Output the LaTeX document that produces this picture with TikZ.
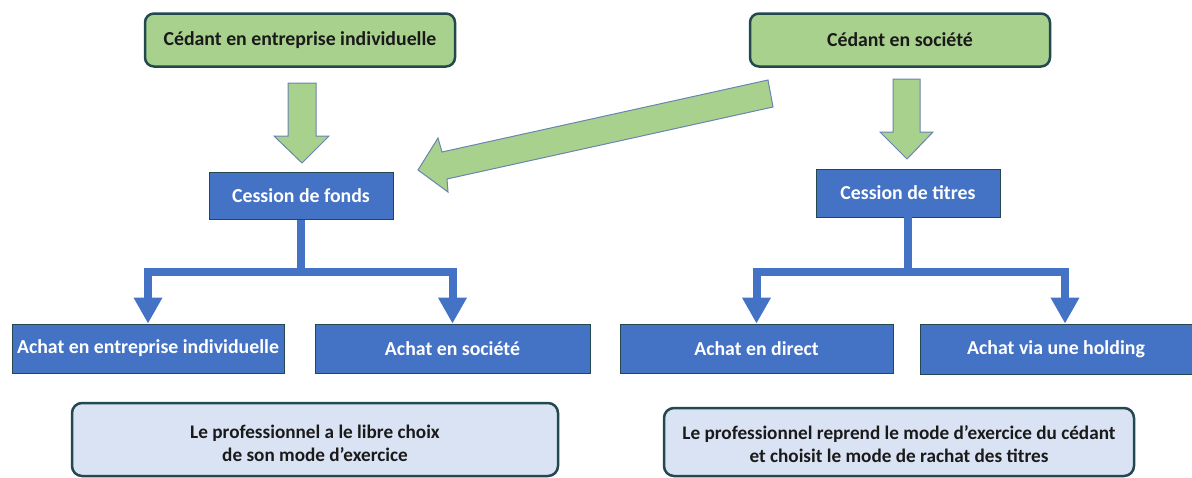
\documentclass[tikz,border=0pt]{standalone}
\usepackage{fontspec}
\setmainfont{Carlito}
\usetikzlibrary{arrows.meta,calc}
\definecolor{gfill}{HTML}{A9D18E}
\definecolor{dteal}{HTML}{23494F}
\definecolor{aborder}{HTML}{6A84B0}
\definecolor{bfill}{HTML}{4472C4}
\definecolor{lfill}{HTML}{DAE3F3}
\definecolor{txt}{HTML}{1A1A1A}
\tikzset{
  greenbox/.style={draw=dteal, line width=2.5pt, fill=gfill, rounded corners=9pt, inner sep=0pt,
    text=txt, font=\fontsize{19.8}{22}\selectfont\bfseries, minimum height=53pt},
  bluebox/.style={draw=dteal, line width=0.8pt, fill=bfill, inner sep=0pt,
    text=white, font=\fontsize{19.8}{22}\selectfont\bfseries},
  notebox/.style={draw=dteal, line width=2.5pt, fill=lfill, rounded corners=10pt, inner sep=0pt,
    text=txt, font=\fontsize{19.2}{23.5}\selectfont\bfseries, align=center},
  blockarrow/.style={draw=aborder, line width=1pt, fill=gfill, line join=miter},
  tree/.style={draw=bfill, line width=8pt, -{Triangle[width=27pt,length=26pt]}}
}
\begin{document}
\begin{tikzpicture}[x=1pt,y=-1pt]
\useasboundingbox (0,0) rectangle (1192,477);
% top green boxes
\node[greenbox, minimum width=310pt] (g1) at (300,40) {Cédant en entreprise individuelle};
\node[greenbox, minimum width=300pt] (g2) at (900,40) {Cédant en société};
% blue middle boxes
\node[bluebox, minimum width=184pt, minimum height=47pt] (cf) at (301,196) {Cession de fonds};
\node[bluebox, minimum width=184pt, minimum height=48pt] (ct) at (908,193) {Cession de titres};
% bottom blue boxes
\node[bluebox, minimum width=272pt, minimum height=49pt] (a1) at (148,348.5) {Achat en entreprise individuelle};
\node[bluebox, minimum width=275pt, minimum height=49pt] (a2) at (452.5,348.5) {Achat en société};
\node[bluebox, minimum width=273pt, minimum height=49pt] (a3) at (756.5,348.5) {Achat en direct};
\node[bluebox, minimum width=272pt, minimum height=50pt] (a4) at (1056,349) {Achat via une holding};
% notes
\node[notebox, minimum width=486pt, minimum height=73pt] (n1) at (315,439.5) {};
\node[notebox, minimum width=470pt, minimum height=68pt] (n2) at (899,442) {};
\node[notebox, draw=none, fill=none] (t1) at ($(n1.center)+(0,4)$)
  {Le professionnel a le libre choix\\de son mode d’exercice};
\node[notebox, draw=none, fill=none] (t2) at ($(n2.center)+(0,2)$)
  {Le professionnel reprend le mode d’exercice du cédant\\et choisit le mode de rachat des titres};
% green block arrows
\draw[blockarrow] (288,83) -- (316,83) -- (316,136) -- (329,136) -- (302,163) -- (274,136) -- (288,136) -- cycle;
\draw[blockarrow] (893,79) -- (920,79) -- (920,132) -- (933,132) -- (907,159) -- (880,132) -- (893,132) -- cycle;
\draw[blockarrow] (768,80) -- (773,107) -- (447,179) -- (448,192) -- (418,170) -- (438,138) -- (442,152) -- cycle;
% tree connectors
\draw[tree] (cf.south) -- ++(0,52) -| (a1.north);
\draw[tree] (cf.south) -- ++(0,52) -| (a2.north);
\draw[tree] (ct.south) -- ++(0,55) -| (a3.north);
\draw[tree] (ct.south) -- ++(0,55) -| ($(a4.north)+(9,0)$);
\end{tikzpicture}
\end{document}
